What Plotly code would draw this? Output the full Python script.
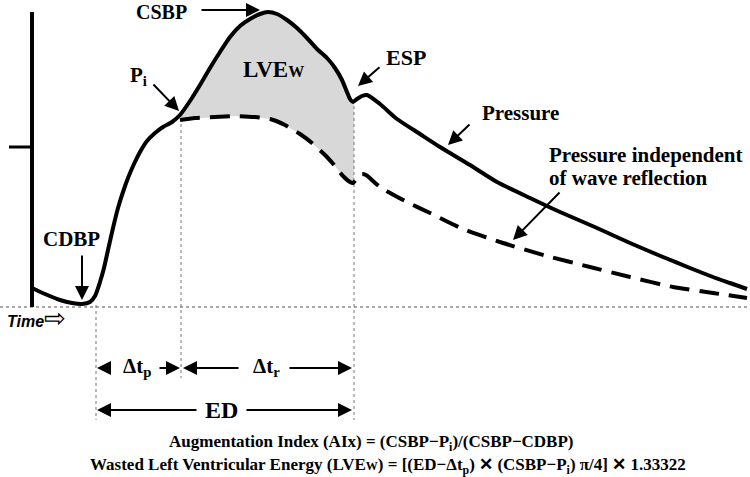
import numpy as np
import plotly.graph_objects as go

# ---------------- data (time units, pressure units; baseline pressure = 0) ----------------
BASE = 307  # helper to convert read-off heights to pressure values (baseline = 0)

time_solid = [32, 45, 60, 72, 82, 90, 95, 100, 104, 108, 113, 118, 123, 128, 134, 140, 147, 155,
              163, 172, 180, 190, 200, 210, 220, 230, 240, 250, 260, 268, 277, 287, 297, 307, 317,
              327, 335, 342, 347, 350, 353, 357, 362, 367, 380, 397, 420, 440, 470, 497, 530, 560,
              597, 630, 663, 690, 713, 730, 747]
pressure_solid_px = [288, 294, 300, 303, 304, 302, 296, 282, 268, 250, 228, 208, 192, 178, 164, 152,
                     141, 133, 127, 122, 115, 101, 85, 68, 52, 37, 26, 19, 14, 12, 14, 20, 28, 38, 49,
                     58, 68, 80, 92, 99, 102, 99, 96, 95, 104, 119, 134, 147, 165, 182, 198, 212,
                     228, 243, 257, 268, 277, 283, 289]
pressure_solid = [BASE - v for v in pressure_solid_px]

time_dashed = [180, 195, 215, 235, 255, 270, 285, 300, 312, 325, 335, 343, 350, 353, 357, 362, 366,
               380, 407, 430, 463, 503, 547, 590, 630, 673, 713, 747]
pressure_dashed_px = [120, 118, 117, 116, 117, 119, 125, 134, 143, 155, 166, 176, 182, 183, 178, 174,
                      175, 187, 202, 213, 229, 243, 256, 267, 277, 287, 293, 298]
pressure_dashed = [BASE - v for v in pressure_dashed_px]

# characteristic times
t_cdbp = 96     # foot of wave
t_pi = 181      # inflection point
t_esp = 354     # end systole

# axis decoration
axis_x = 32
axis_top = BASE - 12
tick_y = BASE - 147
tick_x0 = 9

# ---------------- figure ----------------
fig = go.Figure()

# grey wasted-energy area between the two curves
fx = [t for t in time_solid if t_pi <= t <= t_esp]
fx = [t_pi] + fx + [t_esp]
top = np.interp(fx, time_solid, pressure_solid)
bot = np.interp(fx, time_dashed, pressure_dashed)
fig.add_trace(go.Scatter(x=list(fx) + list(fx[::-1]), y=list(top) + list(bot[::-1]),
                         fill="toself", fillcolor="#d8d8d8", line=dict(width=0),
                         mode="lines", hoverinfo="skip"))

# baseline (time axis)
fig.add_trace(go.Scatter(x=[0, 750], y=[0, 0], mode="lines",
                         line=dict(color="#8a8a8a", width=1.5, dash="dot")))

# vertical guide lines
for tx, y0, y1 in [(t_cdbp, BASE - 305, BASE - 420),
                   (t_pi, BASE - 118, BASE - 378),
                   (t_esp, BASE - 100, BASE - 420)]:
    fig.add_trace(go.Scatter(x=[tx, tx], y=[y0, y1], mode="lines",
                             line=dict(color="#777777", width=1, dash="dot")))

# pressure axis + tick
fig.add_trace(go.Scatter(x=[axis_x, axis_x], y=[axis_top, 0], mode="lines",
                         line=dict(color="black", width=4)))
fig.add_trace(go.Scatter(x=[tick_x0, axis_x], y=[tick_y, tick_y], mode="lines",
                         line=dict(color="black", width=3)))

# dashed curve
fig.add_trace(go.Scatter(x=time_dashed, y=pressure_dashed, mode="lines",
                         line=dict(color="black", width=4, dash="20px,10px", shape="spline",
                                   smoothing=0.6)))
# solid curve
fig.add_trace(go.Scatter(x=time_solid, y=pressure_solid, mode="lines",
                         line=dict(color="black", width=4, shape="spline", smoothing=0.6)))

SERIF = "Liberation Serif"


def label(x, y, text, size, xanchor="center", align="center", family=SERIF):
    fig.add_annotation(x=x, y=BASE - y, text=text, showarrow=False, xanchor=xanchor,
                       yanchor="middle", align=align,
                       font=dict(family=family, size=size, color="black"))


def arrow(tail, head, size=1.4, width=2):
    fig.add_annotation(x=head[0], y=BASE - head[1], ax=tail[0], ay=BASE - tail[1],
                       xref="x", yref="y", axref="x", ayref="y", text="",
                       showarrow=True, arrowhead=2, arrowsize=size, arrowwidth=width,
                       arrowcolor="black")


label(161, 12, "<b>CSBP</b>", 20)
arrow((200, 10), (260, 10))
label(138, 76, "<b>P<sub>i</sub></b>", 21)
arrow((152, 83), (179, 111))
label(273, 69, "<b>LVE<span style='font-size:16px'>W</span></b>", 23)
label(406, 57, "<b>ESP</b>", 22)
arrow((381, 66), (358, 86))
label(520, 113, "<b>Pressure</b>", 21)
arrow((471, 123), (448, 145))
label(547, 155, "<b>Pressure independent</b>", 21, xanchor="left")
label(547, 178, "<b>of wave reflection</b>", 21, xanchor="left")
arrow((561, 191), (513, 240))
label(71, 239, "<b>CDBP</b>", 21)
arrow((82, 254), (82, 300))

label(137, 367, "<b>Δt<sub>p</sub></b>", 21)
arrow((111, 368), (97, 368))
arrow((158, 368), (180, 368))
label(266, 367, "<b>Δt<sub>r</sub></b>", 21)
arrow((240, 368), (183, 368))
arrow((288, 368), (352, 368))
label(221, 410, "<b>ED</b>", 24)
arrow((198, 410), (97, 410))
arrow((245, 410), (352, 410))

label(5, 318, "<b><i>Time</i></b><span style='font-size:26px'>⇨</span>", 16, xanchor="left",
      family="Liberation Sans")

label(371, 443, "<b>Augmentation Index (AIx) = (CSBP−P<sub>i</sub>)/(CSBP−CDBP)</b>", 17)
label(388, 466, "<b>Wasted Left Ventricular Energy (LVE<span style='font-size:12px'>W</span>) = "
                "[(ED−Δt<sub>p</sub>) ✕ (CSBP−P<sub>i</sub>) π/4] ✕ 1.33322</b>", 17)

fig.update_layout(width=750, height=477, margin=dict(l=0, r=0, t=0, b=0),
                  paper_bgcolor="white", plot_bgcolor="white", showlegend=False,
                  xaxis=dict(range=[0, 750], visible=False, fixedrange=True),
                  yaxis=dict(range=[BASE - 477, BASE], visible=False, fixedrange=True))

fig.write_html("out.html", config={"displayModeBar": False},
               post_script="document.body.style.margin='0';")
